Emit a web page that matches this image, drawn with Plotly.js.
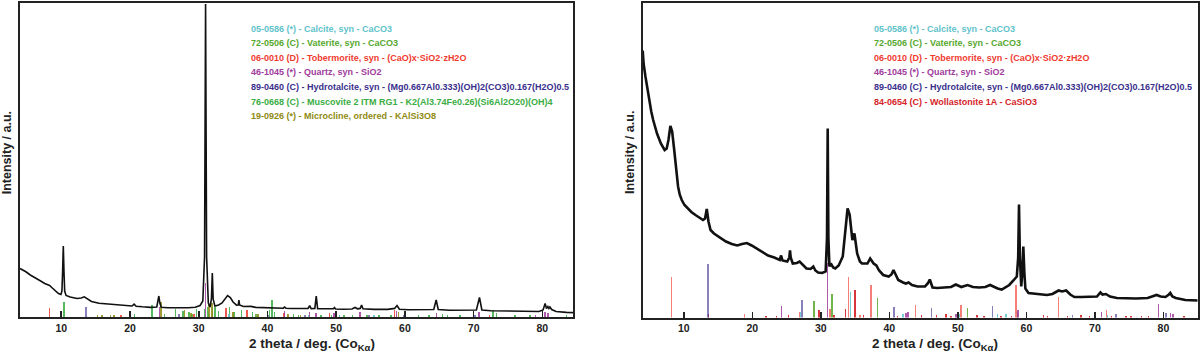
<!DOCTYPE html>
<html>
<head>
<meta charset="utf-8">
<script src="https://cdn.plot.ly/plotly-3.0.1.min.js"></script>
<style>html,body{margin:0;padding:0;background:#fff}#chart{width:1200px;height:352px}</style>
</head>
<body>
<div id="chart"></div>
<script>
// ---------------- DATA ----------------
// Left pattern: 2theta (deg) and intensity (a.u.)
const leftTheta = [4.0,4.8,5.5,6.2,7.0,7.6,7.9,8.3,8.7,9.2,9.6,9.95,10.1,10.2,10.3,10.4,10.5,10.7,11.3,12.3,12.9,13.35,13.8,14.4,15.5,16.8,17.8,19.2,20.3,20.6,20.9,21.8,23.0,23.9,24.05,24.2,24.35,24.55,25.5,26.5,27.5,28.5,29.5,30.2,30.6,30.85,31.0,31.15,31.4,31.65,31.85,31.98,32.1,32.35,32.9,33.4,33.8,34.2,34.6,35.0,35.5,35.75,35.85,35.95,36.5,37.2,37.6,38.3,39.5,40.5,41.5,42.3,42.5,42.7,43.5,45.0,45.9,46.15,46.35,46.9,47.1,47.3,48.5,49.6,49.75,49.9,51.0,52.3,52.75,53.1,53.5,53.7,53.9,55.5,57.5,58.5,58.85,59.2,60.5,62.5,64.2,64.55,64.85,66.5,68.5,70.4,70.85,71.2,72.5,75.0,77.5,79.5,80.1,80.4,80.6,80.8,80.95,81.1,81.35,82.0,83.5,85.0];
const leftInt = [48.5,45.5,42,39.5,36,33.5,32.7,31.5,29,25.5,23.5,22.5,26,45,71,45,26,21.5,20,18.5,19,20.2,18,15.5,13.8,13,12.5,11.5,11,12.8,10.8,10.2,9.6,10,14,21,14,9.8,9.3,9.6,9.3,9.2,9.8,11.5,16,60,313,60,14,10,18,44,18,11,12,14,18,21.5,19.5,15,11.8,12,17,12,10.5,10.3,10.6,9.6,9.3,8.8,8.6,8.8,10,8.7,8.5,8.2,8.6,11.3,8.3,8.6,21,8.4,8,8.2,9.5,8,7.8,8,9.5,8.2,8.6,12,8.3,7.6,7.6,8.6,11.5,7.8,7.3,7.2,7.5,17,7.5,6.8,6.6,7,19.5,7,6.3,6,5.5,5.5,7,13.5,8.5,10.5,8.5,10,7.5,5.5,4.6,4.3];

// Right pattern
const rightTheta = [4.0,4.13,4.4,4.7,4.97,5.25,5.53,6.09,6.65,7.2,7.5,7.76,8.04,8.3,8.6,8.88,9.16,9.4,9.7,10.1,10.56,11.1,11.7,12.3,12.8,13.1,13.35,13.6,13.9,14.4,15.0,15.5,16.15,17.0,17.8,18.5,19.2,19.9,20.6,21.5,22.3,23.2,24.0,24.2,24.4,25.1,25.4,25.5,25.6,25.9,26.5,26.9,27.3,27.9,28.5,28.9,29.2,29.6,30.2,30.7,30.9,31.0,31.1,31.25,31.45,31.8,32.1,32.6,33.2,33.6,33.9,34.2,34.6,34.9,35.3,35.7,36.0,36.8,37.2,37.7,38.1,38.5,39.1,39.9,40.3,40.6,41.0,41.3,42.0,42.4,42.8,43.3,44.1,45.2,45.6,45.9,46.3,47.0,48.0,49.0,49.7,50.5,51.4,52.2,53.1,54.0,54.7,55.8,56.4,57.5,58.1,58.6,58.8,58.92,59.05,59.25,59.4,59.55,59.7,59.85,60.3,61.2,62.0,63.0,63.8,64.7,65.2,65.8,66.4,67.0,68.0,69.3,70.3,70.8,71.1,71.6,72.2,73.2,74.5,76.0,77.7,78.5,79.0,79.6,80.3,80.8,81.0,81.3,81.8,83.2,84.0,85.0];
const rightInt = [267,254,241,228,217.5,206,197.5,184,174,167.5,169,177.5,191.5,186,167.5,147.5,131,123,117.5,112.5,109,105.5,102.5,100,97.5,99,108.5,96,87.5,84,81,78.5,76,73.5,72,73.5,74.5,72,69,65.5,62,60,57.5,62,57,56,60,67,60,54,54.5,56,53,49,48.5,51,47,45,44.5,46,80,189,80,51,54,50,49,52,61,91,109,103,77.5,84,64,56,54,54,59,54,52,47,42.5,41,43,47.5,41,37.5,35,34,35,32.5,31,31,34,38,30,29.5,30,30.5,33,30.5,32.5,30.5,30,30.5,32.5,29,28,32.5,37,41,60,113,60,31,45,71,45,29,24.5,24,23,22.5,23.5,27,26,27,23,20.5,20.5,20.5,21,25,23,23.5,21,19.5,19,19,19.5,21,22.5,21,20.5,23,24.5,21,19.5,17.5,17.5,17];

// Reference phases (legend)
const phaseNames = {
  calcite: "05-0586 (*) - Calcite, syn - CaCO3",
  vaterite: "72-0506 (C) - Vaterite, syn - CaCO3",
  tobermorite: "06-0010 (D) - Tobermorite, syn - (CaO)x·SiO2·zH2O",
  quartz: "46-1045 (*) - Quartz, syn - SiO2",
  hydrotalcite: "89-0460 (C) - Hydrotalcite, syn - (Mg0.667Al0.333)(OH)2(CO3)0.167(H2O)0.5",
  muscovite: "76-0668 (C) - Muscovite 2 ITM RG1 - K2(Al3.74Fe0.26)(Si6Al2O20)(OH)4",
  microcline: "19-0926 (*) - Microcline, ordered - KAlSi3O8",
  wollastonite: "84-0654 (C) - Wollastonite 1A - CaSiO3"
};
const phaseColors = {
  calcite: "#5fc3cb", vaterite: "#57a82e", tobermorite: "#ef3b30", quartz: "#a03c9c",
  hydrotalcite: "#3a2f8c", muscovite: "#3aad44", microcline: "#8f8a12", wollastonite: "#d42428"
};
const leftLegend = ["calcite","vaterite","tobermorite","quartz","hydrotalcite","muscovite","microcline"];
const rightLegend = ["calcite","vaterite","tobermorite","quartz","hydrotalcite","wollastonite"];

// Stick patterns, left panel: positions (deg) and heights (a.u.)
const L_tobermorite_pos = [8.27,18.7,29.3,34.0,37.0,42.4,49.0,58.5,72.3];
const L_tobermorite_h   = [8.7,2.2,3,8.7,7,4.3,4,7,2];
const L_muscovite_pos = [10.4,20.65,23.2,25.0,26.65,27.7,28.6,29.7,30.85,31.25,32.0,32.4,32.9,34.5,35.1,36.2,37.8,40.3,40.7,41.0,43.8,44.5,47.8,49.3,51.1,52.4,54.5,56.2,58.0,62.0,63.5,65.5,66.2,68.0,72.8,73.3,76.0,78.2,83.5];
const L_muscovite_h   = [15.3,3.3,12,3.3,8.5,6,4.7,8.5,8,10,8.7,9.7,6,10,4.7,7,5,7,16.7,5,3,2.5,2,2.5,2,2.5,2,2.5,2,2,2.5,3,2.5,2,6.7,4,2,2,2];
const L_microcline_pos = [15.3,15.9,17.2,17.7,24.5,27.9,28.9,31.5,31.9,35.0,38.6,43.0,44.8,50.5,59.1];
const L_microcline_h   = [2,2,2,1.8,15.3,7,3.7,12,13.7,5,3,3,2.5,2,5];
const L_quartz_pos = [24.3,31.0,42.5,46.15,47.1,49.7,53.5,58.8,64.6,70.8,79.0,80.4,80.85];
const L_quartz_h   = [9.7,34,6,4.7,4.3,4,4.7,6.5,4.5,4.7,2.3,5,4];
const L_hydrotalcite_pos = [13.6,27.1,40.1,45.5,54.8,59.9,70.2];
const L_hydrotalcite_h   = [10.5,3.3,2,2,2,2,2];
const L_vaterite_pos = [29.0,31.4,38.3,51.2,58.5];
const L_vaterite_h   = [3,4,3,2.5,2];
const L_calcite_pos = [34.4,46.0,50.5,55.5];
const L_calcite_h   = [3,2,2,2];

// Stick patterns, right panel
const R_tobermorite_pos = [8.2,18.85,26.9,31.3,34.05,35.7,37.3,43.8,50.45,58.45,64.7,71.7];
const R_tobermorite_h   = [40.7,4,5.7,9,40.7,3,32.3,12.7,12.3,32.3,20.7,8];
const R_wollastonite_pos = [13.6,22.0,23.5,25.3,29.75,31.9,33.6,35.0,36.2,41.2,44.7,46.9,48.3,49.0,52.8,53.8,56.3,57.8,62.5,63.1,66.0,68.0,69.2,72.4,74.5,75.3,76.8,77.8,83.0];
const R_wollastonite_h   = [4,2,2,2.5,7.3,3,8.5,27.3,2.5,2,3,3,4,2,2.5,2,2,2,3,2,2,2.5,2,2,2,2,2,2,2];
const R_hydrotalcite_pos = [13.55,27.25,40.65,46.15,55.05,66.75,73.1,80.4];
const R_hydrotalcite_h   = [54,17.3,11,10,11.3,2.5,3.5,4.7];
const R_quartz_pos = [24.25,31.0,42.45,42.7,49.7,58.8,70.95,79.3,81.0,81.4];
const R_quartz_h   = [11.3,55,4.7,5.7,4,7.3,6,13.3,5,4];
const R_vaterite_pos = [29.0,31.6,38.25,51.4,58.7];
const R_vaterite_h   = [16.5,24,19.5,10,6];
const R_calcite_pos = [27.05,34.3,42.0,50.25,55.8,57.0,71.8];
const R_calcite_h   = [5.7,25.7,4,4,4,4,2.5];

const xTickVals = [10,20,30,40,50,60,70,80];
const xTickText = ["10","20","30","40","50","60","70","80"];

// ---------------- CHART ----------------
const W = 1200, H = 352;
const FONT = "Liberation Sans, Arial, Helvetica, sans-serif";

function sticks(pos, h, phase, xa, ya, op) {
  return {type: "bar", x: pos, y: h, xaxis: xa, yaxis: ya, width: 0.22,
    marker: {color: phaseColors[phase], line: {width: 0}}, opacity: op,
    showlegend: false, hoverinfo: "x+y", name: phaseNames[phase]};
}

const traces = [
  sticks(L_muscovite_pos, L_muscovite_h, "muscovite", "x", "y", 0.85),
  sticks(L_microcline_pos, L_microcline_h, "microcline", "x", "y", 0.85),
  sticks(L_vaterite_pos, L_vaterite_h, "vaterite", "x", "y", 0.85),
  sticks(L_calcite_pos, L_calcite_h, "calcite", "x", "y", 0.85),
  sticks(L_tobermorite_pos, L_tobermorite_h, "tobermorite", "x", "y", 0.85),
  sticks(L_hydrotalcite_pos, L_hydrotalcite_h, "hydrotalcite", "x", "y", 0.6),
  sticks(L_quartz_pos, L_quartz_h, "quartz", "x", "y", 0.85),
  {type: "scatter", mode: "lines", x: leftTheta, y: leftInt, xaxis: "x", yaxis: "y",
   line: {color: "#111", width: 1.6}, showlegend: false},

  sticks(R_wollastonite_pos, R_wollastonite_h, "wollastonite", "x2", "y2", 0.9),
  sticks(R_tobermorite_pos, R_tobermorite_h, "tobermorite", "x2", "y2", 0.65),
  sticks(R_vaterite_pos, R_vaterite_h, "vaterite", "x2", "y2", 0.85),
  sticks(R_calcite_pos, R_calcite_h, "calcite", "x2", "y2", 0.85),
  sticks(R_hydrotalcite_pos, R_hydrotalcite_h, "hydrotalcite", "x2", "y2", 0.6),
  sticks(R_quartz_pos, R_quartz_h, "quartz", "x2", "y2", 0.85),
  {type: "scatter", mode: "lines", x: rightTheta, y: rightInt, xaxis: "x2", yaxis: "y2",
   line: {color: "#111", width: 2.6}, showlegend: false}
];

const xBase = {
  showline: true, linewidth: 2, linecolor: "#222", mirror: true,
  ticks: "inside", ticklen: 6, tickwidth: 1.6, tickcolor: "#222",
  tickmode: "array", tickvals: xTickVals, ticktext: xTickText,
  showgrid: false, zeroline: false,
  tickfont: {family: FONT, size: 10.5, weight: "bold", color: "#222"}
};
const yBase = {
  showline: true, linewidth: 2, linecolor: "#222", mirror: true,
  ticks: "", showticklabels: false, showgrid: false, zeroline: false
};

const annotations = [];
function addLegend(list, x0) {
  list.forEach((k, i) => {
    annotations.push({xref: "paper", yref: "paper", x: x0 / W, y: 1 - (28.7 + i * 14.6) / H,
      xanchor: "left", yanchor: "middle", showarrow: false, text: phaseNames[k],
      font: {family: FONT, size: 9, weight: "bold", color: phaseColors[k]}});
  });
}
addLegend(leftLegend, 249.3);
addLegend(rightLegend, 871.7);

const xTitle = "2 theta / deg. (Co<sub>Kα</sub>)";
[[311.7], [935]].forEach(([cx]) => {
  annotations.push({xref: "paper", yref: "paper", x: cx / W, y: 1 - 334 / H,
    xanchor: "center", yanchor: "top", showarrow: false, text: xTitle,
    font: {family: FONT, size: 13.5, weight: "bold", color: "#222"}});
});
[[7.3], [630]].forEach(([cx]) => {
  annotations.push({xref: "paper", yref: "paper", x: cx / W, y: 1 - 153 / H,
    xanchor: "center", yanchor: "middle", showarrow: false, textangle: -90,
    text: "Intensity / a.u.",
    font: {family: FONT, size: 12.5, weight: "bold", color: "#222"}});
});

const layout = {
  width: W, height: H, margin: {l: 0, r: 0, t: 0, b: 0},
  paper_bgcolor: "#fff", plot_bgcolor: "#fff",
  barmode: "overlay", bargap: 0, showlegend: false,
  xaxis: Object.assign({}, xBase, {domain: [20 / W, 573.3 / W], range: [4, 84.5], anchor: "y"}),
  yaxis: Object.assign({}, yBase, {domain: [1 - 317 / H, 1 - 3 / H], range: [0, 314], anchor: "x"}),
  xaxis2: Object.assign({}, xBase, {domain: [642.7 / W, 1197.7 / W], range: [4, 85], anchor: "y2"}),
  yaxis2: Object.assign({}, yBase, {domain: [1 - 317.5 / H, 1 - 3 / H], range: [0, 314.5], anchor: "x2"}),
  annotations: annotations
};

Plotly.newPlot("chart", traces, layout, {staticPlot: true, displayModeBar: false});
</script>
</body>
</html>
